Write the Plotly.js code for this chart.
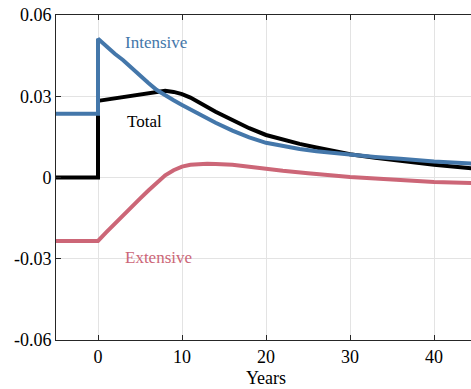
<!DOCTYPE html>
<html>
<head>
<meta charset="utf-8">
<script src="https://cdn.plot.ly/plotly-3.0.1.min.js"></script>
<style>
html, body { margin: 0; padding: 0; overflow: hidden; background: #fff; }
#chart { width: 476px; height: 389px; }
</style>
</head>
<body>
<div id="chart"></div>
<script>
// ---- data ----
const intensiveX = [-5, 0, 0, 1, 2, 3, 4, 5, 6, 7, 8, 9, 10, 11, 12, 14, 16, 18, 20, 22, 24, 26, 28, 30, 33, 36, 40, 45];
const intensiveY = [0.0235, 0.0235, 0.0512, 0.0482, 0.0457, 0.0433, 0.0404, 0.0376, 0.0349, 0.0323, 0.0303, 0.0285, 0.0268, 0.0251, 0.0234, 0.0202, 0.0173, 0.0148, 0.0128, 0.0115, 0.0105, 0.0097, 0.0090, 0.0084, 0.0076, 0.0069, 0.0059, 0.0051];

const totalX = [-5, 0, 0, 2, 4, 6, 7, 8, 9, 10, 11, 12, 13, 14, 16, 18, 20, 22, 24, 26, 28, 30, 33, 36, 40, 45];
const totalY = [0, 0, 0.0283, 0.0292, 0.0302, 0.0312, 0.0318, 0.0320, 0.0316, 0.0308, 0.0295, 0.0277, 0.0260, 0.0243, 0.0212, 0.0182, 0.0157, 0.0139, 0.0124, 0.0111, 0.0098, 0.0086, 0.0073, 0.0061, 0.0047, 0.0032];

const extensiveX = [-5, 0, 1, 2, 3, 4, 5, 6, 7, 8, 9, 10, 11, 12, 13, 14, 16, 18, 20, 22, 25, 28, 30, 33, 36, 40, 45];
const extensiveY = [-0.0234, -0.0234, -0.0202, -0.0170, -0.0138, -0.0108, -0.0078, -0.0048, -0.0018, 0.0008, 0.0027, 0.0040, 0.0047, 0.0050, 0.0051, 0.0050, 0.0047, 0.0040, 0.0032, 0.0025, 0.0016, 0.0007, 0.0002, -0.0004, -0.0010, -0.0017, -0.0021];

const xTickVals = [0, 10, 20, 30, 40];
const xTickText = ['0', '10', '20', '30', '40'];
const yTickVals = [0.06, 0.03, 0, -0.03, -0.06];
const yTickText = ['0.06', '0.03', '0', '-0.03', '-0.06'];

const seriesNames = ['Intensive', 'Total', 'Extensive'];
const labelX = [3.0, 3.2, 3.0];
const labelY = [0.0500, 0.0206, -0.0297];

// ---- styling ----
const colors = { Intensive: '#4477AA', Total: '#000000', Extensive: '#CC6677' };
const FONT = 'Liberation Serif, Times New Roman, serif';

const traces = [
  { x: totalX, y: totalY, name: 'Total', mode: 'lines', line: { color: colors.Total, width: 4 } },
  { x: extensiveX, y: extensiveY, name: 'Extensive', mode: 'lines', line: { color: colors.Extensive, width: 4 } },
  { x: intensiveX, y: intensiveY, name: 'Intensive', mode: 'lines', line: { color: colors.Intensive, width: 4 } }
];

const annotations = seriesNames.map((n, i) => ({
  x: labelX[i], y: labelY[i], xref: 'x', yref: 'y', text: n, showarrow: false,
  xanchor: 'left', yanchor: 'middle',
  font: { family: FONT, size: 17, color: colors[n] }
}));

const axisCommon = {
  showline: true, linecolor: '#262626', linewidth: 1,
  ticks: 'inside', ticklen: 5, tickwidth: 1, tickcolor: '#262626',
  showgrid: true, gridcolor: '#e3e3e3', gridwidth: 1,
  zeroline: false,
  tickfont: { family: FONT, size: 18, color: '#000' }
};

const layout = {
  width: 476, height: 389,
  margin: { l: 56, r: 0, t: 15, b: 49 },
  paper_bgcolor: '#fff', plot_bgcolor: '#fff',
  showlegend: false,
  xaxis: Object.assign({}, axisCommon, {
    range: [-5, 45], mirror: 'ticks',
    tickvals: xTickVals, ticktext: xTickText,
    title: { text: 'Years', font: { family: FONT, size: 18, color: '#000' }, standoff: 5 }
  }),
  yaxis: Object.assign({}, axisCommon, {
    range: [-0.06, 0.06], mirror: false,
    tickvals: yTickVals, ticktext: yTickText
  }),
  annotations: annotations
};

Plotly.newPlot('chart', traces, layout, { displayModeBar: false, staticPlot: true });
</script>
</body>
</html>
